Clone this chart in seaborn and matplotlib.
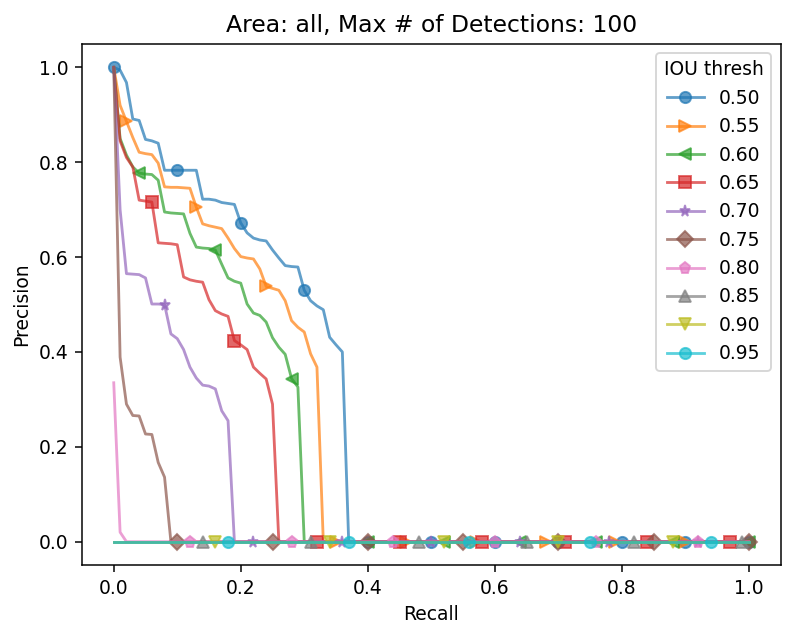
import numpy as np
import pandas as pd
import seaborn as sns
import matplotlib.pyplot as plt

# recall thresholds (COCO style, 101 points)
recall = np.linspace(0, 1, 101)

iou_thresh = ['0.50', '0.55', '0.60', '0.65', '0.70', '0.75', '0.80', '0.85', '0.90', '0.95']

# precision, zero beyond the listed points
prec_50 = [1.000, 0.994, 0.968, 0.891, 0.888, 0.848, 0.845, 0.840, 0.783, 0.783,
           0.783, 0.783, 0.783, 0.783, 0.722, 0.722, 0.720, 0.715, 0.713, 0.711,
           0.672, 0.651, 0.640, 0.636, 0.634, 0.615, 0.598, 0.582, 0.580, 0.579,
           0.530, 0.508, 0.497, 0.489, 0.431, 0.415, 0.400]
prec_55 = [1.000, 0.920, 0.886, 0.852, 0.821, 0.818, 0.816, 0.798, 0.748, 0.747,
           0.747, 0.746, 0.745, 0.705, 0.670, 0.666, 0.663, 0.660, 0.640, 0.618,
           0.601, 0.598, 0.596, 0.575, 0.538, 0.534, 0.530, 0.508, 0.466, 0.452,
           0.442, 0.396, 0.368]
prec_60 = [1.000, 0.850, 0.815, 0.790, 0.777, 0.775, 0.774, 0.762, 0.695, 0.693,
           0.692, 0.691, 0.650, 0.621, 0.619, 0.618, 0.615, 0.585, 0.556, 0.549,
           0.545, 0.501, 0.482, 0.477, 0.463, 0.430, 0.410, 0.395, 0.344, 0.326]
prec_65 = [1.000, 0.845, 0.810, 0.790, 0.720, 0.718, 0.716, 0.630, 0.629, 0.628,
           0.626, 0.558, 0.552, 0.549, 0.547, 0.510, 0.487, 0.480, 0.475, 0.424,
           0.415, 0.405, 0.368, 0.355, 0.343, 0.290]
prec_70 = [1.000, 0.700, 0.565, 0.564, 0.563, 0.556, 0.501, 0.501, 0.500, 0.438,
           0.428, 0.405, 0.368, 0.345, 0.330, 0.328, 0.322, 0.276, 0.255]
prec_75 = [1.000, 0.389, 0.290, 0.266, 0.265, 0.227, 0.226, 0.167, 0.136]
prec_80 = [0.335, 0.020]
prec_85 = [0.0]
prec_90 = [0.0]
prec_95 = [0.0]

markers = ['o', '>', '<', 's', '*', 'D', 'p', '^', 'v', 'o']


def pad(vals):
    return list(vals) + [0.0] * (len(recall) - len(vals))


curves = [prec_50, prec_55, prec_60, prec_65, prec_70,
          prec_75, prec_80, prec_85, prec_90, prec_95]

dpi = 135
fig, ax = plt.subplots(figsize=(789 / dpi, 628 / dpi), dpi=dpi)

for i, (thr, prec) in enumerate(zip(iou_thresh, curves)):
    c = f'C{i}'
    sns.lineplot(x=recall, y=pad(prec), ax=ax, color=c, alpha=0.7,
                 marker=markers[i], markevery=(2 * i, 10 + i),
                 markeredgecolor=c, markeredgewidth=1.0, markersize=6,
                 linewidth=1.5, label=thr)

ax.set_xlim(-0.05, 1.05)
ax.set_ylim(-0.05, 1.05)
ax.set_xticks([0.0, 0.2, 0.4, 0.6, 0.8, 1.0])
ax.set_yticks([0.0, 0.2, 0.4, 0.6, 0.8, 1.0])
ax.set_xlabel('Recall')
ax.set_ylabel('Precision')
ax.set_title('Area: all, Max # of Detections: 100', fontsize=12.5)
ax.legend(title='IOU thresh', loc='upper right')

fig.subplots_adjust(left=82 / 789, right=780.5 / 789, top=1 - 43.6 / 628, bottom=1 - 565.4 / 628)
fig.savefig('out.png', dpi=dpi)
